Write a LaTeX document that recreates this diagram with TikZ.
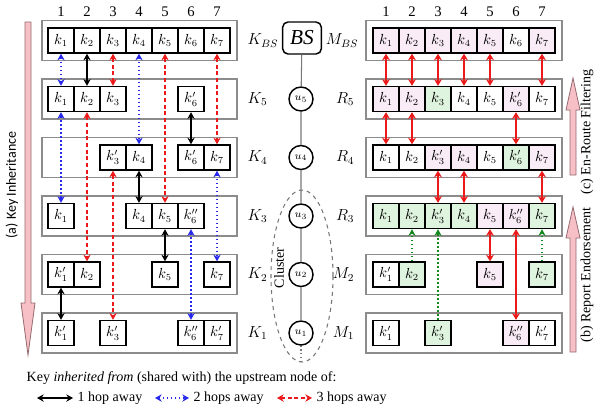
\documentclass[tikz,border=0pt]{standalone}
\usepackage{fontspec}
\setmainfont{Liberation Serif}
\newfontfamily\sidefont{Carlito}
\usetikzlibrary{arrows.meta}
\definecolor{cellpink}{RGB}{249,236,247}
\definecolor{cellgreen}{RGB}{223,244,222}
\definecolor{boxgray}{RGB}{140,140,140}
\definecolor{linkgray}{RGB}{120,120,120}
\definecolor{hopblue}{RGB}{40,40,235}
\definecolor{hopred}{RGB}{235,25,25}
\definecolor{hopgreen}{RGB}{20,135,30}
\definecolor{flowpink}{RGB}{246,192,198}
\definecolor{flowedge}{RGB}{150,105,110}

\tikzset{
  cell/.style={draw,line width=1.1pt,minimum width=19.5pt,minimum height=18.75pt,
               inner sep=0pt,font=\fontsize{10.5}{12}\selectfont},
  rowbox/.style={draw=boxgray,fill=white,line width=1.2pt},
  rowlabel/.style={font=\fontsize{11.5}{13}\selectfont},
  colnum/.style={font=\fontsize{11}{13}\selectfont},
  sensor/.style={circle,draw,line width=1.1pt,fill=white,minimum size=18pt,
                 inner sep=0pt,font=\fontsize{8}{9}\selectfont},
  hopone/.style={black,line width=1pt,{Stealth[length=5pt,width=5.5pt]}-{Stealth[length=5pt,width=5.5pt]}},
  hoptwo/.style={hopblue,line width=1pt,dotted,{Stealth[length=5pt,width=5.5pt]}-{Stealth[length=5pt,width=5.5pt]}},
  hopthree/.style={hopred,line width=1pt,dash pattern=on 3pt off 2pt,{Stealth[length=5pt,width=5.5pt]}-{Stealth[length=5pt,width=5.5pt]}},
  filter/.style={hopred,line width=1.3pt,{Stealth[length=5pt,width=6pt]}-{Stealth[length=5pt,width=6pt]}},
  endorse/.style={hopgreen,line width=1pt,dotted,-{Stealth[length=5pt,width=5.5pt]}},
  flow/.style={fill=flowpink,draw=flowedge,line width=0.6pt},
}

\begin{document}
\begin{tikzpicture}[x=0.75pt,y=-0.75pt]
\useasboundingbox (0,0) rectangle (596,411);

% column numbers
\foreach \c in {1,...,7} {
  \node[colnum] (lnum-\c) at ({61+26*(\c-1)},12) {\c};
  \node[colnum] (rnum-\c) at ({386+26*(\c-1)},12) {\c};
}

% row boxes
\foreach \y in {40.5,99,157.5,216,274.5,333} {
  \draw[rowbox] (42,\y-20) rectangle (237,\y+20);
  \draw[rowbox] (366,\y-20) rectangle (562,\y+20);
}

% left panel: keys held
\foreach \c/\k in {1/k_1,2/k_2,3/k_3,4/k_4,5/k_5,6/k_6,7/k_7}
  \node[cell] (Kb-\c) at ({61+26*(\c-1)},40.5) {$\k$};
\foreach \c/\k in {1/k_1,2/k_2,3/k_3,6/k'_6}
  \node[cell] (K5-\c) at ({61+26*(\c-1)},99) {$\k$};
\foreach \c/\k in {3/k'_3,4/k_4,6/k'_6,7/k_7}
  \node[cell] (K4-\c) at ({61+26*(\c-1)},157.5) {$\k$};
\foreach \c/\k in {1/k_1,4/k_4,5/k_5,6/k''_6}
  \node[cell] (K3-\c) at ({61+26*(\c-1)},216) {$\k$};
\foreach \c/\k in {1/k'_1,2/k_2,5/k_5,7/k_7}
  \node[cell] (K2-\c) at ({61+26*(\c-1)},274.5) {$\k$};
\foreach \c/\k in {1/k'_1,3/k'_3,6/k''_6,7/k'_7}
  \node[cell] (K1-\c) at ({61+26*(\c-1)},333) {$\k$};

\node[rowlabel,anchor=west] (Kb-lab) at (243,40.5) {$K_{BS}$};
\foreach \r/\y in {5/99,4/157.5,3/216,2/274.5,1/333}
  \node[rowlabel,anchor=west] (K\r-lab) at (243,\y) {$K_{\r}$};

% inherited keys
\draw[hopone] (Kb-2.south) -- (K5-2.north);
\draw[hopone] (K5-6.south) -- (K4-6.north);
\draw[hopone] (K4-4.south) -- (K3-4.north);
\draw[hopone] (K3-5.south) -- (K2-5.north);
\draw[hopone] (K2-1.south) -- (K1-1.north);
\draw[hoptwo] (Kb-1.south) -- (K5-1.north);
\draw[hoptwo] (Kb-4.south) -- (K4-4.north);
\draw[hoptwo] (K5-1.south) -- (K3-1.north);
\draw[hoptwo] (K4-7.south) -- (K2-7.north);
\draw[hoptwo] (K3-6.south) -- (K1-6.north);
\draw[hopthree] (Kb-3.south) -- (K5-3.north);
\draw[hopthree] (Kb-5.south) -- (K3-5.north);
\draw[hopthree] (Kb-7.south) -- (K4-7.north);
\draw[hopthree] (K5-2.south) -- (K2-2.north);
\draw[hopthree] (K4-3.south) -- (K1-3.north);

% the path in the middle
\node[draw,rounded corners=4pt,line width=1.1pt,fill=white,minimum width=29pt,
      minimum height=24pt,font=\fontsize{16}{18}\selectfont\itshape] (bs) at (302,38) {BS};
\foreach \r/\y in {5/99,4/157.5,3/216,2/274.5,1/333}
  \node[sensor] (u\r) at (301,\y) {$u_{\r}$};
\draw[linkgray,line width=0.8pt] (bs) -- (u5) -- (u4) -- (u3) -- (u2) -- (u1);
\coordinate (tail) at (301,364);
\draw[linkgray,line width=0.8pt,dotted] (u1) -- (tail);
\draw[linkgray,line width=0.8pt,dashed] (302,276) ellipse [x radius=31,y radius=86];
\node[rotate=90,font=\fontsize{10.5}{12}\selectfont] (cluster) at (279,268) {Cluster};

% right panel: MACs carried
\foreach \c/\k/\f in {1/k_1/cellpink,2/k_2/cellpink,3/k_3/cellpink,4/k_4/cellpink,5/k_5/cellpink,6/k_6/white,7/k_7/cellpink}
  \node[cell,fill=\f] (Mb-\c) at ({386+26*(\c-1)},40.5) {$\k$};
\foreach \c/\k/\f in {1/k_1/cellpink,2/k_2/cellpink,3/k_3/cellgreen,4/k_4/white,5/k_5/white,6/k'_6/cellpink,7/k_7/white}
  \node[cell,fill=\f] (R5-\c) at ({386+26*(\c-1)},99) {$\k$};
\foreach \c/\k/\f in {1/k_1/white,2/k_2/white,3/k'_3/cellpink,4/k_4/cellpink,5/k_5/white,6/k'_6/cellgreen,7/k_7/cellpink}
  \node[cell,fill=\f] (R4-\c) at ({386+26*(\c-1)},157.5) {$\k$};
\foreach \c/\k/\f in {1/k_1/cellgreen,2/k_2/cellgreen,3/k'_3/cellgreen,4/k_4/cellgreen,5/k_5/cellpink,6/k''_6/cellpink,7/k_7/cellgreen}
  \node[cell,fill=\f] (R3-\c) at ({386+26*(\c-1)},216) {$\k$};
\foreach \c/\k/\f in {1/k'_1/white,2/k_2/cellgreen,5/k_5/cellpink,7/k_7/cellgreen}
  \node[cell,fill=\f] (M2-\c) at ({386+26*(\c-1)},274.5) {$\k$};
\foreach \c/\k/\f in {1/k'_1/white,3/k'_3/cellgreen,6/k''_6/cellpink,7/k'_7/white}
  \node[cell,fill=\f] (M1-\c) at ({386+26*(\c-1)},333) {$\k$};

\node[rowlabel,anchor=east] (Mb-lab) at (363,40.5) {$M_{BS}$};
\node[rowlabel,anchor=east] (R5-lab) at (359,99) {$R_5$};
\node[rowlabel,anchor=east] (R4-lab) at (359,157.5) {$R_4$};
\node[rowlabel,anchor=east] (R3-lab) at (359,216) {$R_3$};
\node[rowlabel,anchor=east] (M2-lab) at (359,274.5) {$M_2$};
\node[rowlabel,anchor=east] (M1-lab) at (359,333) {$M_1$};

% endorsement and filtering
\foreach \c in {1,2,3,4,5,7} \draw[filter] (Mb-\c.south) -- (R5-\c.north);
\foreach \c in {1,2,6} \draw[filter] (R5-\c.south) -- (R4-\c.north);
\foreach \c in {3,4,7} \draw[filter] (R4-\c.south) -- (R3-\c.north);
\draw[filter] (R3-5.south) -- (M2-5.north);
\draw[filter] (R3-6.south) -- (M1-6.north);
\draw[endorse] (M2-2.north) -- (R3-2.south);
\draw[endorse] (M1-3.north) -- (R3-3.south);
\draw[endorse] (M2-7.north) -- (R3-7.south);

% big side arrows
\filldraw[flow] (25,22) -- (31,22) -- (31,303) -- (35,303) -- (28,355) -- (21,303) -- (25,303) -- cycle;
\filldraw[flow] (570,175) -- (576,175) -- (576,110) -- (580,110) -- (573,78) -- (566,110) -- (570,110) -- cycle;
\filldraw[flow] (570,352) -- (576,352) -- (576,238) -- (580,238) -- (573,207) -- (566,238) -- (570,238) -- cycle;
\node[rotate=90,font=\sidefont\fontsize{10.5}{12}\selectfont] (inherit) at (12,185) {(a) Key Inheritance};
\node[rotate=90,font=\fontsize{10.5}{12}\selectfont] (filtering) at (587,132) {(c) En-Route Filtering};
\node[rotate=90,font=\fontsize{10.5}{12}\selectfont] (endorsing) at (587,275) {(b) Report Endorsement};

% legend
\node[anchor=west,font=\fontsize{10.5}{12}\selectfont] (keynote) at (22,378)
  {Key \textit{inherited from} (shared with) the upstream node of:};
\node[anchor=west,font=\fontsize{10.5}{12}\selectfont] (one) at (73,398) {1 hop away};
\node[anchor=west,font=\fontsize{10.5}{12}\selectfont] (two) at (189,398) {2 hops away};
\node[anchor=west,font=\fontsize{10.5}{12}\selectfont] (three) at (312,398) {3 hops away};
\coordinate (one-a) at (37,398);
\coordinate (two-a) at (155,398);
\coordinate (three-a) at (277,398);
\draw[hopone] (one-a) -- (one.west);
\draw[hoptwo] (two-a) -- (two.west);
\draw[hopthree] (three-a) -- (three.west);
\end{tikzpicture}
\end{document}
